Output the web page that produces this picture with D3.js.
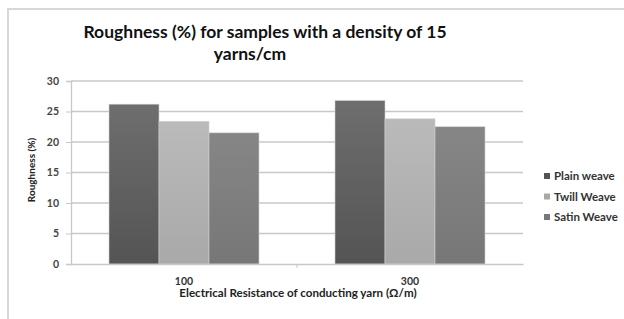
<!DOCTYPE html>
<html>
<head>
<meta charset="utf-8">
<script src="https://cdn.jsdelivr.net/npm/d3@7"></script>
<style>
  body { margin: 0; background: #fff; }
  text { font-family: Lato, "Open Sans", sans-serif; }
</style>
</head>
<body>
<div id="chart"></div>
<script>
// Data
var categories = ["100", "300"];
var seriesNames = ["Plain weave", "Twill Weave", "Satin Weave"];
var plainWeave = [26.2, 26.8];
var twillWeave = [23.4, 23.8];
var satinWeave = [21.5, 22.5];
var yTicks = [0, 5, 10, 15, 20, 25, 30];

var seriesValues = [plainWeave, twillWeave, satinWeave];
var colors = [["#6e6e6e", "#545454"], ["#bababa", "#a9a9a9"], ["#868686", "#777777"]];

var W = 624, H = 319;
var margin = {top: 81, right: 101, bottom: 55, left: 71},
    width = W - margin.left - margin.right,
    height = H - margin.top - margin.bottom;

var svg = d3.select("#chart").append("svg")
    .attr("width", W)
    .attr("height", H);

// gradients for bars
var defs = svg.append("defs");
colors.forEach(function(c, i) {
    var g = defs.append("linearGradient")
        .attr("id", "grad" + i)
        .attr("x1", 0).attr("y1", 0).attr("x2", 0).attr("y2", 1);
    g.append("stop").attr("offset", "0%").attr("stop-color", c[0]);
    g.append("stop").attr("offset", "100%").attr("stop-color", c[1]);
});

// chart frame (top and left edges)
svg.append("line").attr("x1", 7).attr("x2", 624).attr("y1", 9).attr("y2", 9)
    .attr("stroke", "#d8d8d8").attr("stroke-width", 2);
svg.append("line").attr("x1", 8).attr("x2", 8).attr("y1", 9).attr("y2", 319)
    .attr("stroke", "#d8d8d8").attr("stroke-width", 2);

// title
var title = svg.append("text")
    .attr("text-anchor", "middle")
    .style("font-size", "17.5px")
    .style("font-weight", "bold")
    .attr("fill", "#111");
title.append("tspan").attr("x", 265).attr("y", 38).text("Roughness (%) for samples with a density of 15");
title.append("tspan").attr("x", 250).attr("y", 60).text("yarns/cm");

var g = svg.append("g")
    .attr("transform", "translate(" + margin.left + "," + margin.top + ")");

var x0 = d3.scaleBand().domain(categories).range([0, width]);
var x1 = d3.scaleBand().domain(seriesNames).range([0, 150]);
var y = d3.scaleLinear().domain([0, 30]).range([height, 0]);

// gridlines
g.append("g")
    .selectAll("line")
    .data(yTicks.slice(1))
    .join("line")
    .attr("x1", 0).attr("x2", width)
    .attr("y1", function(d) { return y(d); })
    .attr("y2", function(d) { return y(d); })
    .attr("stroke", "#c8c8c8")
    .attr("stroke-width", 1.3);

// bars
var groups = g.append("g")
    .selectAll("g")
    .data(categories)
    .join("g")
    .attr("transform", function(d) { return "translate(" + (x0(d) + (x0.bandwidth() - 150) / 2) + ",0)"; });

groups.selectAll("rect")
    .data(function(d, ci) { return seriesNames.map(function(s, si) { return {s: s, si: si, v: seriesValues[si][ci]}; }); })
    .join("rect")
    .attr("x", function(d) { return x1(d.s); })
    .attr("width", x1.bandwidth())
    .attr("y", function(d) { return y(d.v); })
    .attr("height", function(d) { return height - y(d.v); })
    .attr("fill", function(d) { return "url(#grad" + d.si + ")"; })
    .attr("stroke", "#d0d0d0")
    .attr("stroke-width", 0.6);

// Y axis
var yAxis = g.append("g")
    .call(d3.axisLeft(y).tickValues(yTicks).tickSize(5).tickPadding(7));
yAxis.select(".domain").attr("stroke", "#c8c8c8").attr("stroke-width", 1.3);
yAxis.selectAll(".tick line").attr("stroke", "#c8c8c8");
yAxis.selectAll("text").style("font-size", "10.5px").style("font-weight", "bold").attr("fill", "#444");

// X axis
var xAxis = g.append("g")
    .attr("transform", "translate(0," + height + ")")
    .call(d3.axisBottom(x0).tickSize(0).tickPadding(14));
xAxis.select(".domain").attr("stroke", "#c8c8c8").attr("stroke-width", 1.3);
xAxis.selectAll("text").style("font-size", "10.5px").style("font-weight", "bold").attr("fill", "#333");
// category separator tick
g.append("line")
    .attr("x1", width / 2).attr("x2", width / 2)
    .attr("y1", height).attr("y2", height + 4)
    .attr("stroke", "#c8c8c8");

// axis titles
svg.append("text")
    .attr("x", 298)
    .attr("y", 297)
    .attr("text-anchor", "middle")
    .style("font-size", "11.6px")
    .style("font-weight", "bold")
    .attr("fill", "#222")
    .text("Electrical Resistance of conducting yarn (\u03A9/m)");

svg.append("text")
    .attr("transform", "rotate(-90)")
    .attr("x", -170)
    .attr("y", 35)
    .attr("text-anchor", "middle")
    .style("font-size", "10px")
    .style("font-weight", "bold")
    .attr("fill", "#222")
    .text("Roughness (%)");

// legend
var legend = svg.append("g")
    .selectAll("g")
    .data(seriesNames)
    .join("g")
    .attr("transform", function(d, i) { return "translate(544," + (176 + i * 20.5) + ")"; });
legend.append("rect")
    .attr("x", 0).attr("y", -3).attr("width", 6).attr("height", 6)
    .attr("fill", function(d, i) { return colors[i][1]; });
legend.append("text")
    .attr("x", 10).attr("y", 4)
    .style("font-size", "11.5px")
    .style("font-weight", "bold")
    .attr("fill", "#333")
    .text(function(d) { return d; });
</script>
</body>
</html>
